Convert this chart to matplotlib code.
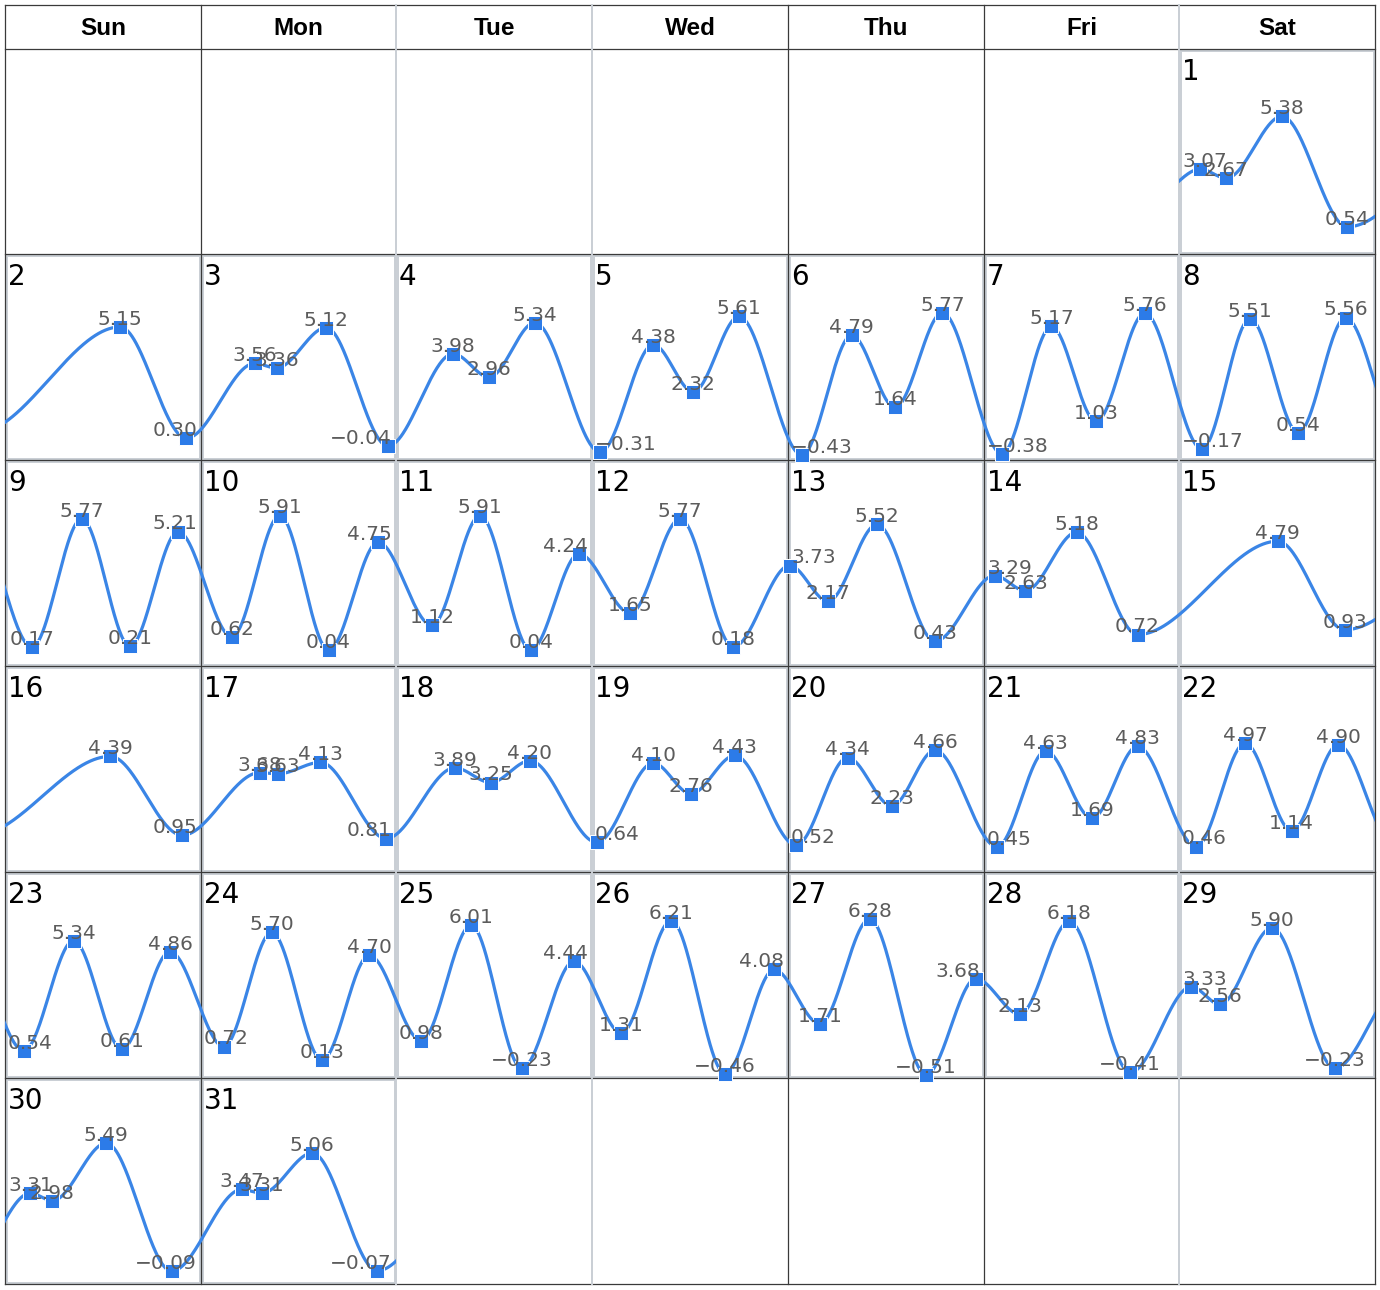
import matplotlib
matplotlib.use("Agg")
import matplotlib.pyplot as plt
import numpy as np
from matplotlib.patches import Rectangle

plt.rcParams["font.family"] = ["DejaVu Sans"]

# figure size in pixels
W, H = 1380, 1290

weekday_names = ["Sun", "Mon", "Tue", "Wed", "Thu", "Fri", "Sat"]
first_weekday = 6  # the 1st falls on a Saturday
n_days = 31

# tide extremes: day of month, hour of day, height
tide_day = [1, 1, 1, 1,
            2, 2,
            3, 3, 3, 3,
            4, 4, 4,
            5, 5, 5, 5,
            6, 6, 6, 6,
            7, 7, 7, 7,
            8, 8, 8, 8,
            9, 9, 9, 9,
            10, 10, 10, 10,
            11, 11, 11, 11,
            12, 12, 12,
            13, 13, 13, 13,
            14, 14, 14, 14,
            15, 15,
            16, 16,
            17, 17, 17, 17,
            18, 18, 18,
            19, 19, 19, 19,
            20, 20, 20, 20,
            21, 21, 21, 21,
            22, 22, 22, 22,
            23, 23, 23, 23,
            24, 24, 24, 24,
            25, 25, 25, 25,
            26, 26, 26, 26,
            27, 27, 27, 27,
            28, 28, 28,
            29, 29, 29, 29,
            30, 30, 30, 30,
            31, 31, 31, 31]
tide_hour = [2.6, 5.8, 12.6, 20.6,
             14.1, 22.2,
             6.6, 9.3, 15.4, 23.0,
             7.0, 11.4, 17.0,
             1.0, 7.5, 12.4, 18.0,
             1.7, 7.8, 13.1, 18.9,
             2.2, 8.3, 13.8, 19.8,
             2.8, 8.7, 14.6, 20.4,
             3.3, 9.4, 15.3, 21.2,
             3.8, 9.7, 15.7, 21.8,
             4.4, 10.3, 16.5, 22.4,
             4.7, 10.8, 17.3,
             0.2, 4.9, 10.9, 18.0,
             1.3, 5.1, 11.4, 18.9,
             12.1, 20.3,
             12.9, 21.7,
             7.2, 9.5, 14.7, 22.8,
             7.2, 11.6, 16.4,
             0.6, 7.5, 12.1, 17.5,
             1.0, 7.3, 12.7, 18.0,
             1.6, 7.6, 13.3, 18.9,
             2.1, 8.1, 13.8, 19.5,
             2.3, 8.4, 14.3, 20.2,
             2.8, 8.7, 14.9, 20.7,
             3.1, 9.2, 15.4, 21.8,
             3.6, 9.7, 16.3, 22.3,
             3.9, 10.0, 16.9, 23.0,
             4.4, 10.5, 18.0,
             1.5, 5.0, 11.4, 19.1,
             3.1, 5.8, 12.4, 20.4,
             5.0, 7.5, 13.7, 21.7]
tide_height = [3.07, 2.67, 5.38, 0.54,
               5.15, 0.30,
               3.56, 3.36, 5.12, -0.04,
               3.98, 2.96, 5.34,
               -0.31, 4.38, 2.32, 5.61,
               -0.43, 4.79, 1.64, 5.77,
               -0.38, 5.17, 1.03, 5.76,
               -0.17, 5.51, 0.54, 5.56,
               0.17, 5.77, 0.21, 5.21,
               0.62, 5.91, 0.04, 4.75,
               1.12, 5.91, 0.04, 4.24,
               1.65, 5.77, 0.18,
               3.73, 2.17, 5.52, 0.43,
               3.29, 2.63, 5.18, 0.72,
               4.79, 0.93,
               4.39, 0.95,
               3.68, 3.63, 4.13, 0.81,
               3.89, 3.25, 4.20,
               0.64, 4.10, 2.76, 4.43,
               0.52, 4.34, 2.23, 4.66,
               0.45, 4.63, 1.69, 4.83,
               0.46, 4.97, 1.14, 4.90,
               0.54, 5.34, 0.61, 4.86,
               0.72, 5.70, 0.13, 4.70,
               0.98, 6.01, -0.23, 4.44,
               1.31, 6.21, -0.46, 4.08,
               1.71, 6.28, -0.51, 3.68,
               2.13, 6.18, -0.41,
               3.33, 2.56, 5.90, -0.23,
               3.31, 2.98, 5.49, -0.09,
               3.47, 3.31, 5.06, -0.07]

# extremes just outside the month (hours relative to the 1st / the 31st)
before_month = (-3.0, 1.9)
after_month = (32.5, 3.5)

Y_MIN, Y_MAX = -0.65, 8.33

# table geometry (pixels)
col_edges = [5, 201, 396, 592, 788, 984, 1179, 1375]
row_edges = [5, 49, 254, 460, 666, 872, 1078, 1284]

LINE_BLUE = "#3a85e6"
MARK_BLUE = "#2c7be8"
DARK = "#3a3a3a"
LIGHT = "#c9ced4"
LABEL_GRAY = "#5c5c5c"

# continuous time axis for the smooth curve
t_all = np.array([before_month[0]]
                 + [(d - 1) * 24 + h for d, h in zip(tide_day, tide_hour)]
                 + [(n_days - 1) * 24 + after_month[0]])
v_all = np.array([before_month[1]] + tide_height + [after_month[1]])


def tide_curve(ts):
    # monotone cubic through alternating extremes (zero slope at each one)
    i = np.clip(np.searchsorted(t_all, ts) - 1, 0, len(t_all) - 2)
    s = np.clip((ts - t_all[i]) / (t_all[i + 1] - t_all[i]), 0, 1)
    w = 3 * s ** 2 - 2 * s ** 3
    return v_all[i] + (v_all[i + 1] - v_all[i]) * w


def fmt(v):
    return f"{v:.2f}".replace("-", "\u2212")


def text_width_px(txt, size):
    em = size * 100 / 72
    widths = {".": 0.318, "\u2212": 0.838}
    return sum(widths.get(c, 0.636) for c in txt) * em


fig = plt.figure(figsize=(W / 100, H / 100), dpi=100)
fig.patch.set_facecolor("white")

bg = fig.add_axes([0, 0, 1, 1], zorder=0)
bg.set_xlim(0, W)
bg.set_ylim(H, 0)
bg.axis("off")

# header
for c, name in enumerate(weekday_names):
    cx = (col_edges[c] + col_edges[c + 1]) / 2
    bg.text(cx, 35, name, ha="center", va="baseline", fontsize=17.5,
            fontweight="bold", family=["Liberation Sans", "DejaVu Sans"],
            color="black")

# light inner borders of the day cells
for d in range(1, n_days + 1):
    k = d - 1 + first_weekday
    c, r = k % 7, k // 7
    x0, x1 = col_edges[c], col_edges[c + 1]
    y0, y1 = row_edges[r + 1], row_edges[r + 2]
    bg.add_patch(Rectangle((x0 + 1.5, y0 + 1.5), x1 - x0 - 3, y1 - y0 - 3,
                           fill=False, ec=LIGHT, lw=1.4))

# table lines
for y in row_edges:
    bg.plot([col_edges[0], col_edges[-1]], [y, y], color=DARK, lw=0.9)
for i, x in enumerate(col_edges):
    light = i in (2, 3, 6)
    bg.plot([x, x], [row_edges[0], row_edges[-1]],
            color=LIGHT if light else DARK, lw=1.4 if light else 0.9)

label_size = 14.5
hours_arr = np.array(tide_hour)
height_arr = np.array(tide_height)
day_arr = np.array(tide_day)

for d in range(1, n_days + 1):
    k = d - 1 + first_weekday
    c, r = k % 7, k // 7
    x0, x1 = col_edges[c], col_edges[c + 1]
    y0, y1 = row_edges[r + 1], row_edges[r + 2]
    ax = fig.add_axes([x0 / W, 1 - y1 / H, (x1 - x0) / W, (y1 - y0) / H],
                      zorder=2)
    ax.set_xlim(0, 24)
    ax.set_ylim(Y_MIN, Y_MAX)
    ax.axis("off")
    ax.patch.set_alpha(0)

    ts = np.linspace(-0.5, 24.5, 300)
    ax.plot(ts, tide_curve(ts + (d - 1) * 24), color=LINE_BLUE, lw=2.3,
            solid_capstyle="butt", zorder=2)

    sel = day_arr == d
    hh, vv = hours_arr[sel], height_arr[sel]
    ax.plot(hh, vv, "s", ms=10, color=MARK_BLUE, mec="white", mew=0.7,
            clip_on=False, zorder=3)

    for h, v in zip(hh, vv):
        txt = fmt(v)
        w = text_width_px(txt, label_size)
        cx = x0 + h / 24 * (x1 - x0)
        cx = min(max(cx, x0 + 3 + w / 2), x1 - 4 - w / 2)
        hl = (cx - x0) / (x1 - x0) * 24
        ax.annotate(txt, (hl, v), xytext=(0, 1.5), textcoords="offset points",
                    ha="center", va="baseline", fontsize=label_size,
                    family="DejaVu Sans", color=LABEL_GRAY,
                    annotation_clip=False, zorder=4)

    ax.text(3 / (x1 - x0), 1 - 31 / (y1 - y0), str(d),
            transform=ax.transAxes, ha="left", va="baseline",
            fontsize=20, family="DejaVu Sans", color="black", zorder=5)

fig.savefig("out.png", dpi=100)
